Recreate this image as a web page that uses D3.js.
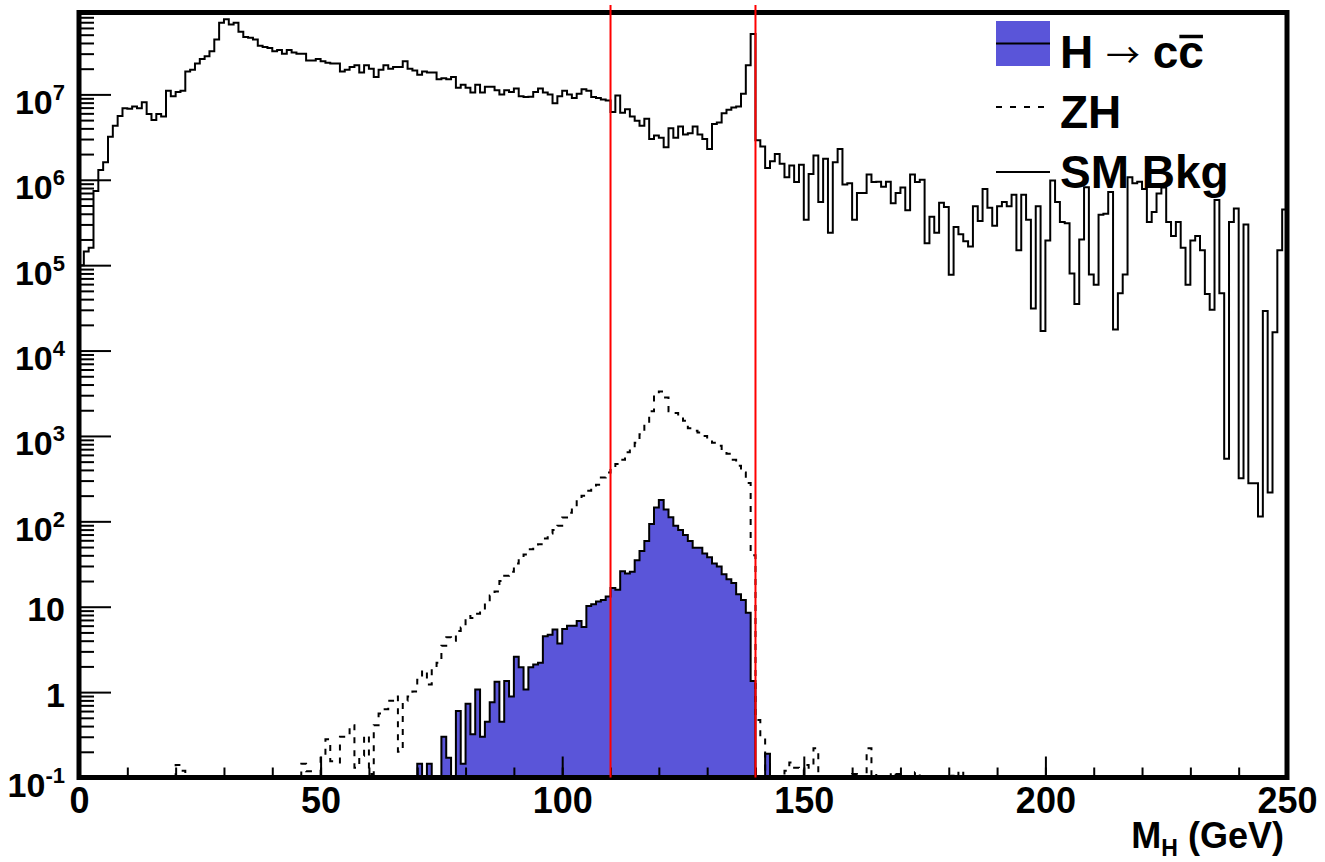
<!DOCTYPE html>
<html lang="en">
<head>
  <meta charset="UTF-8">
  <title>M_H distribution: H to cc, ZH and SM background</title>
  <script src="https://d3js.org/d3.v7.min.js"></script>
  <style>
    body { margin: 0; background: #fff; }
    svg text {
      font-family: "Liberation Sans", Arial, Helvetica, sans-serif;
      font-weight: bold;
      fill: #000;
    }
    .tick line { stroke: #000; stroke-width: 2px; }
  </style>
</head>
<body>
  <div id="chart"></div>

  <script>
    // 1 GeV bins from 0 to 250 GeV
    const nBins = 250;

    // SM background, bins 0..249
    const bkgCounts = [
      1.0e5, 1.45e5, 1.6e5, 7.4e5, 1.3e6, 1.6e6, 3.2e6, 4.3e6, 5.6e6, 6.9e6,
      6.8e6, 7.2e6, 6.9e6, 8.1e6, 5.9e6, 5.0e6, 5.9e6, 5.5e6, 1.1e7, 9.5e6,
      1.07e7, 1.1e7, 1.86e7, 1.95e7, 2.3e7, 2.6e7, 2.8e7, 3.2e7, 4.4e7, 6.9e7,
      7.6e7, 6.6e7, 6.9e7, 5.4e7, 4.7e7, 4.6e7, 4.4e7, 3.7e7, 3.6e7, 3.5e7,
      3.2e7, 3.3e7, 3.0e7, 3.3e7, 3.1e7, 3.0e7, 3.0e7, 2.5e7, 2.5e7, 2.6e7,
      2.45e7, 2.35e7, 2.3e7, 2.3e7, 1.86e7, 1.95e7, 2.1e7, 2.2e7, 1.8e7, 2.2e7,
      2.0e7, 1.6e7, 1.95e7, 2.2e7, 2.0e7, 2.1e7, 2.1e7, 2.45e7, 2.0e7, 1.9e7,
      1.7e7, 1.86e7, 1.8e7, 1.8e7, 1.5e7, 1.55e7, 1.5e7, 1.6e7, 1.2e7, 1.3e7,
      1.2e7, 1.05e7, 1.3e7, 1.05e7, 1.23e7, 1.23e7, 1.12e7, 1.0e7, 1.12e7, 1.07e7,
      1.17e7, 9.5e6, 9.3e6, 9.4e6, 1.07e7, 1.17e7, 1.05e7, 1.0e7, 7.9e6, 9.5e6,
      1.1e7, 1.0e7, 9.1e6, 1.02e7, 1.15e7, 1.1e7, 9.3e6, 9.1e6, 8.7e6, 8.5e6,
      6.2e6, 9.7e6, 6.1e6, 6.7e6, 5.5e6, 4.9e6, 4.3e6, 5.2e6, 3.0e6, 3.3e6,
      3.1e6, 2.4e6, 4.0e6, 3.1e6, 4.2e6, 3.4e6, 3.5e6, 4.2e6, 3.4e6, 3.0e6,
      2.3e6, 4.5e6, 4.7e6, 6.0e6, 6.6e6, 7.0e6, 7.2e6, 1.02e7, 2.2e7, 5.1e7,
      2.9e6, 2.45e6, 1.37e6, 1.65e6, 2.0e6, 1.54e6, 1.07e6, 1.47e6, 9.4e5, 1.5e6,
      3.4e5, 1.17e6, 1.93e6, 5.5e5, 1.76e6, 2.4e5, 1.6e6, 2.3e6, 8.8e5, 9.1e5,
      3.4e5, 7.0e5, 7.0e5, 1.15e6, 9.4e5, 9.5e5, 8.3e5, 9.5e5, 5.3e5, 7.0e5,
      8.1e5, 4.4e5, 1.15e6, 9.4e5, 1.0e6, 1.8e5, 3.7e5, 2.4e5, 5.4e5, 4.8e5,
      7.7e4, 2.8e5, 2.3e5, 1.9e5, 1.65e5, 4.9e5, 3.3e5, 7.8e5, 4.7e5, 2.9e5,
      4.9e5, 5.5e5, 4.9e5, 6.7e5, 1.5e5, 6.7e5, 3.4e5, 3.1e4, 4.9e5, 1.7e4,
      1.94e5, 9.8e5, 5.5e5, 3.2e5, 3.1e5, 8.0e4, 3.5e4, 2.0e5, 8.2e5, 7.8e4,
      5.9e4, 3.9e5, 4.0e5, 7.2e5, 1.76e4, 4.7e4, 7.8e4, 1.07e6, 9.1e5, 9.5e5,
      7.8e5, 3.2e5, 4.2e5, 6.9e5, 8.1e5, 3.2e5, 2.2e5, 3.2e5, 1.6e5, 5.9e4,
      1.94e5, 2.2e5, 1.5e5, 4.6e4, 3.0e4, 5.8e5, 4.7e4, 540, 3.2e5, 4.6e5,
      320, 3.0e5, 280, 280, 114, 2.9e4, 218, 1.64e4, 1.5e5, 4.5e5
    ];

    // H -> cc signal, bins 70..142
    const sigFirstBin = 70;
    const sigCounts = [
      0.145, 0, 0.145, 0, 0, 0.30, 0.17, 0, 0.60, 0.145,
      0.73, 0.32, 1.07, 0.30, 0.45, 0.76, 1.32, 0.45, 1.35, 0.89,
      2.6, 1.95, 1.07, 1.95, 2.1, 2.2, 4.5, 4.7, 5.4, 3.7,
      5.5, 6.0, 6.0, 6.8, 5.8, 10.2, 10.7, 11.5, 12.0, 13.2,
      16.6, 15.8, 26, 24.5, 25.7, 35, 45, 59, 93, 145,
      178, 138, 112, 89, 79, 69, 59, 49, 49, 42,
      38, 32, 29.5, 24, 21, 19, 14, 12, 8.5, 1.35,
      0, 0, 0.19
    ];

    // ZH, bins 20..182
    const zhFirstBin = 20;
    const zhCounts = [
      0.14, 0.12, 0, 0, 0, 0, 0, 0, 0, 0,
      0, 0, 0, 0, 0, 0, 0, 0, 0, 0,
      0, 0, 0, 0, 0, 0, 0.145, 0.118, 0, 0,
      0.19, 0.28, 0.155, 0.15, 0.30, 0.30, 0.41, 0.13, 0.18, 0.31,
      0.11, 0.41, 0.56, 0.63, 0.79, 0.89, 0.20, 0.79, 0.89, 1.02,
      1.4, 1.8, 1.23, 1.8, 2.2, 3.5, 4.4, 4.0, 5.2, 5.7,
      7.8, 7.4, 8.3, 9.1, 11.2, 13.5, 15.1, 20, 23, 25.7,
      32, 36, 41, 47, 50, 54, 63, 72, 79, 89,
      111, 126, 145, 178, 200, 228, 251, 269, 327, 372,
      427, 468, 525, 646, 724, 832, 1047, 1380, 1950, 3090,
      3310, 2820, 1950, 1860, 1660, 1510, 1230, 1150, 1100, 1000,
      912, 832, 767, 676, 617, 525, 447, 372, 282, 40,
      0.47, 0.30, 0, 0, 0, 0, 0.12, 0.15, 0.13, 0,
      0.14, 0.13, 0.22, 0, 0, 0, 0, 0, 0, 0,
      0.11, 0, 0, 0.22, 0, 0.11, 0, 0, 0.115, 0.11,
      0, 0, 0, 0.115, 0, 0, 0, 0, 0, 0,
      0.105, 0, 0.12
    ];

    const xMajorTicks = [0, 50, 100, 150, 200, 250];
    const xMinorTicks = d3.range(0, 251, 10);
    const yDecades = [1e-1, 1, 1e1, 1e2, 1e3, 1e4, 1e5, 1e6, 1e7];
    const cutValues = [110, 140];

    const W = 1325, H = 862;
    const margin = { top: 12.5, left: 79 };
    const width = 1208, height = 765;

    const svg = d3.select("#chart")
                  .append("svg")
                  .attr("width", W)
                  .attr("height", H)
                  .style("background", "#fff");

    svg.append("rect").attr("width", W).attr("height", H).attr("fill", "#fff");

    const g = svg.append("g")
                 .attr("transform", `translate(${margin.left},${margin.top})`);

    const x = d3.scaleLinear().domain([0, nBins]).range([0, width]);
    const y = d3.scaleLog().domain([0.1, 9.1e7]).range([height, 0]);

    g.append("clipPath").attr("id", "plot-clip")
     .append("rect").attr("width", width).attr("height", height);

    // step outline of a histogram; empty bins fall below the frame
    const floorVal = 1e-3;
    function steps(counts, firstBin, fromBottom) {
      const pts = [];
      if (fromBottom) pts.push([firstBin, floorVal]);
      counts.forEach((c, i) => {
        const v = c > 0 ? c : floorVal;
        pts.push([firstBin + i, v], [firstBin + i + 1, v]);
      });
      if (fromBottom) pts.push([firstBin + counts.length, floorVal]);
      return pts;
    }

    const line = d3.line().x(d => x(d[0])).y(d => y(d[1]));
    const area = d3.area()
                   .x(d => x(d[0]))
                   .y0(height)
                   .y1(d => Math.min(y(d[1]), height));

    const plot = g.append("g").attr("clip-path", "url(#plot-clip)");

    const sigPts = steps(sigCounts, sigFirstBin, true);
    plot.append("path")
        .attr("d", area(sigPts))
        .attr("fill", "#5a55d9");
    plot.append("path")
        .attr("d", line(sigPts))
        .attr("fill", "none")
        .attr("stroke", "#000")
        .attr("stroke-width", 2);

    plot.append("path")
        .attr("d", line(steps(zhCounts, zhFirstBin, true)))
        .attr("fill", "none")
        .attr("stroke", "#000")
        .attr("stroke-width", 2)
        .attr("stroke-dasharray", "6,7");

    plot.append("path")
        .attr("d", line(steps(bkgCounts, 0, false)))
        .attr("fill", "none")
        .attr("stroke", "#000")
        .attr("stroke-width", 2);

    // y axis: decades and minor ticks, pointing inwards
    const yMinor = [];
    yDecades.forEach(d => d3.range(2, 10).forEach(m => {
      if (m * d <= y.domain()[1]) yMinor.push(m * d);
    }));

    g.append("g")
     .call(d3.axisLeft(y).tickValues(yMinor).tickSizeInner(-15).tickSizeOuter(0).tickFormat(""))
     .call(a => a.select(".domain").remove());

    const yAxis = g.append("g")
      .call(d3.axisLeft(y).tickValues(yDecades).tickSizeInner(-32).tickSizeOuter(0).tickPadding(14))
      .call(a => a.select(".domain").remove());

    yAxis.attr("font-family", null).attr("font-size", 34);
    yAxis.selectAll(".tick text").each(function(d) {
      const e = Math.round(Math.log10(d));
      const t = d3.select(this).attr("dy", null).text(null);
      if (e === 0 || e === 1) {
        t.attr("y", 14).text(e === 0 ? "1" : "10");
      } else {
        t.attr("y", 19);
        t.append("tspan").text("10");
        t.append("tspan").attr("dy", -14).attr("font-size", 22).text(e);
      }
    });

    // x axis
    g.append("g")
     .attr("transform", `translate(0,${height})`)
     .call(d3.axisBottom(x).tickValues(xMinorTicks).tickSizeInner(-10).tickSizeOuter(0).tickFormat(""))
     .call(a => a.select(".domain").remove());

    const xAxis = g.append("g")
      .attr("transform", `translate(0,${height})`)
      .call(d3.axisBottom(x).tickValues(xMajorTicks).tickSizeInner(-21).tickSizeOuter(0).tickPadding(10).tickFormat(d3.format("d")))
      .call(a => a.select(".domain").remove());
    xAxis.attr("font-family", null).attr("font-size", 36);

    // frame
    g.append("rect")
     .attr("width", width)
     .attr("height", height)
     .attr("fill", "none")
     .attr("stroke", "#000")
     .attr("stroke-width", 5);

    // mass window
    g.selectAll(".cut")
     .data(cutValues)
     .enter()
     .append("line")
     .attr("class", "cut")
     .attr("x1", d => x(d)).attr("x2", d => x(d))
     .attr("y1", -7.5).attr("y2", height)
     .attr("stroke", "#ff0000")
     .attr("stroke-width", 2);

    // axis title
    const title = svg.append("text")
      .attr("x", 1284)
      .attr("y", 848)
      .attr("text-anchor", "end")
      .attr("font-size", 36);
    title.append("tspan").text("M");
    title.append("tspan").attr("dy", 8).attr("font-size", 23).text("H");
    title.append("tspan").attr("dy", -8).text(" (GeV)");

    // legend
    const leg = svg.append("g");
    leg.append("rect")
       .attr("x", 996).attr("y", 21).attr("width", 54).attr("height", 45)
       .attr("fill", "#5a55d9");
    leg.append("line")
       .attr("x1", 996).attr("x2", 1050).attr("y1", 43.5).attr("y2", 43.5)
       .attr("stroke", "#000").attr("stroke-width", 2);
    leg.append("line")
       .attr("x1", 996).attr("x2", 1050).attr("y1", 107).attr("y2", 107)
       .attr("stroke", "#000").attr("stroke-width", 2).attr("stroke-dasharray", "6,8");
    leg.append("line")
       .attr("x1", 996).attr("x2", 1050).attr("y1", 172).attr("y2", 172)
       .attr("stroke", "#000").attr("stroke-width", 2);

    const hcc = leg.append("text").attr("x", 1060).attr("y", 68).attr("font-size", 46);
    hcc.append("tspan").text("H ");
    hcc.append("tspan")
       .style("font-family", "'Noto Sans CJK SC', 'DejaVu Sans', sans-serif")
       .style("font-weight", "normal")
       .attr("font-size", 34)
       .text("\u2192");
    hcc.append("tspan").text(" cc");
    const lastChar = hcc.node().getNumberOfChars() - 1;
    const ext = hcc.node().getExtentOfChar(lastChar);
    leg.append("line")
       .attr("x1", ext.x + 1).attr("x2", ext.x + ext.width - 1)
       .attr("y1", 36.5).attr("y2", 36.5)
       .attr("stroke", "#000").attr("stroke-width", 3.5);

    leg.append("text").attr("x", 1060).attr("y", 128).attr("font-size", 46).text("ZH");
    leg.append("text").attr("x", 1060).attr("y", 188).attr("font-size", 46).text("SM Bkg");
  </script>
</body>
</html>
